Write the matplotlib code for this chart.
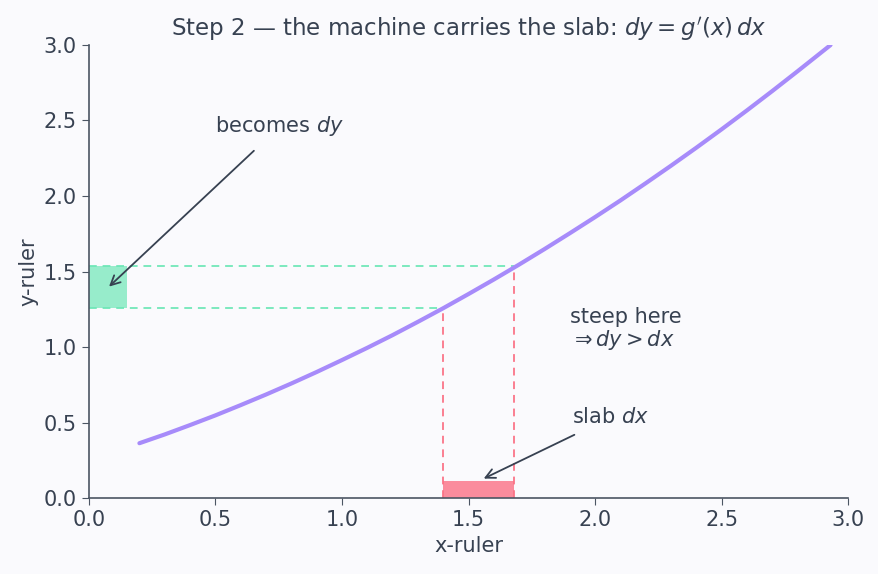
import matplotlib
matplotlib.use("Agg")
from matplotlib import pyplot as plt

# curve g(x)
curve_x = [0.2, 0.3, 0.4, 0.5, 0.6, 0.7, 0.8, 0.9, 1.0, 1.1, 1.2, 1.3, 1.4, 1.5,
           1.6, 1.7, 1.8, 1.9, 2.0, 2.1, 2.2, 2.3, 2.4, 2.5, 2.6, 2.7, 2.8, 2.93]
curve_y = [0.364, 0.422, 0.484, 0.548, 0.616, 0.686, 0.759, 0.835, 0.914, 0.995,
           1.079, 1.167, 1.257, 1.351, 1.447, 1.546, 1.648, 1.753, 1.860, 1.970,
           2.084, 2.200, 2.319, 2.441, 2.566, 2.694, 2.825, 2.998]

# the slab and its image
slab_x = [1.40, 1.68]
slab_y = [1.257, 1.538]
slab_height = 0.115
dy_width = 0.15

BG = "#fafafd"
TXT = "#374151"
AXC = "#4b5563"
VIOLET = "#a78bfa"
GREEN = "#6ee7b7"
RED = "#fb7185"

plt.rcParams['font.family'] = ['DejaVu Sans']
fig, ax = plt.subplots(figsize=(8.79, 5.74), dpi=100)
fig.patch.set_facecolor(BG)
ax.set_facecolor(BG)

ax.plot(curve_x, curve_y, color=VIOLET, lw=3, solid_capstyle='round', zorder=3)

# red slab on the x-ruler
ax.fill_between(slab_x, 0, slab_height, color=RED, alpha=0.8, lw=0, zorder=2)
for xv, yv in zip(slab_x, slab_y):
    ax.plot([xv, xv], [0, yv], color=RED, ls=(0, (4, 3)), lw=1.4, alpha=0.9, zorder=2)

# green image on the y-ruler
ax.fill_between([0, dy_width], slab_y[0], slab_y[1], color=GREEN, alpha=0.7, lw=0, zorder=2)
for xv, yv in zip(slab_x, slab_y):
    ax.plot([0, xv], [yv, yv], color=GREEN, ls=(0, (4, 3)), lw=1.4, alpha=0.9, zorder=2)

arrow = dict(arrowstyle='->', color=TXT, lw=1.3, mutation_scale=17)
ax.annotate('becomes $dy$', xy=(0.08, 1.4), xytext=(0.5, 2.38), color=TXT, fontsize=15,
            ha='left', va='bottom', arrowprops=dict(arrow, shrinkA=10, shrinkB=0))
ax.annotate('slab $dx$', xy=(1.56, 0.13), xytext=(1.91, 0.47), color=TXT, fontsize=15,
            ha='left', va='bottom', arrowprops=dict(arrow, shrinkA=8, shrinkB=0))
ax.text(1.9, 0.97, 'steep here\n$\\Rightarrow dy > dx$', color=TXT, fontsize=15,
        ha='left', va='bottom', linespacing=1.05)

ax.set_xlim(0, 3)
ax.set_ylim(0, 3)
ax.set_xlabel('x-ruler', color=TXT, fontsize=15)
ax.set_ylabel('y-ruler', color=TXT, fontsize=15)
ax.set_title("Step 2 — the machine carries the slab: $dy = g'(x)\\,dx$", color=TXT, fontsize=16.5)
ax.tick_params(colors=AXC, labelcolor=TXT, labelsize=15, length=5)
for side in ['top', 'right']:
    ax.spines[side].set_visible(False)
for side in ['left', 'bottom']:
    ax.spines[side].set_color(AXC)
    ax.spines[side].set_linewidth(1.2)

plt.subplots_adjust(left=0.101, right=0.965, top=0.922, bottom=0.132)
plt.savefig('out.png', dpi=100, facecolor=BG)
